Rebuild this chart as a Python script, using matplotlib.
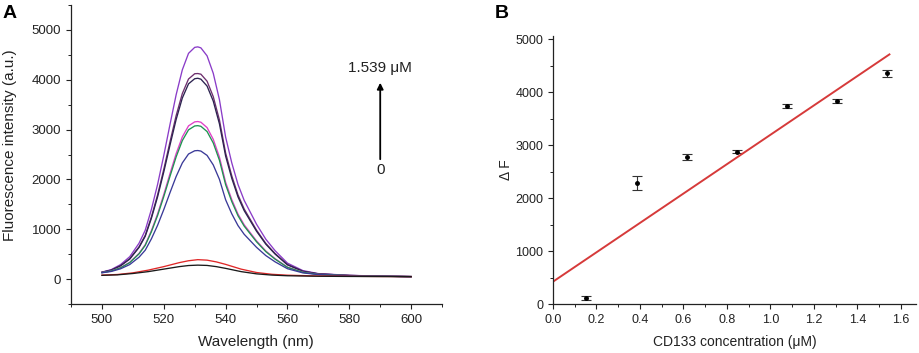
import numpy as np
import matplotlib
matplotlib.use('Agg')
import matplotlib.pyplot as plt
from matplotlib.ticker import MultipleLocator

plt.rcParams['font.family'] = ['Liberation Sans', 'DejaVu Sans']

# --- panel A: emission spectra ---
wl = [500, 503, 506, 509, 512, 514, 516, 518, 520, 522, 524, 526, 528, 530, 531,
      532, 534, 536, 538, 540, 542, 544, 546, 548, 550, 553, 556, 560, 565, 570,
      580, 590, 600]
spec_1539 = [140, 190, 290, 450, 720, 980, 1400, 1900, 2480, 3100, 3700, 4200, 4530,
             4650, 4660, 4640, 4480, 4130, 3600, 2850, 2330, 1900, 1580, 1340, 1100,
             800, 570, 320, 170, 110, 75, 60, 50]
spec_1309 = [137, 180, 269, 410, 648, 878, 1249, 1691, 2204, 2752, 3282, 3724, 4015,
             4121, 4125, 4112, 3971, 3661, 3193, 2530, 2070, 1690, 1407, 1194, 982,
             716, 513, 292, 158, 105, 73, 59, 50]
spec_1078 = [136, 179, 265, 402, 635, 859, 1221, 1651, 2151, 2686, 3203, 3634, 3918,
             4021, 4030, 4012, 3874, 3572, 3115, 2469, 2020, 1650, 1374, 1167, 960,
             701, 502, 286, 156, 104, 73, 59, 50]
spec_0847 = [130, 163, 230, 337, 517, 692, 974, 1309, 1699, 2115, 2518, 2854, 3075,
             3155, 3162, 3148, 3040, 2805, 2448, 1944, 1594, 1305, 1090, 928, 766,
             564, 409, 240, 137, 95, 69, 58, 50]
spec_0616 = [130, 162, 226, 330, 506, 676, 950, 1277, 1656, 2061, 2453, 2780, 2995,
             3073, 3079, 3066, 2961, 2732, 2385, 1894, 1554, 1272, 1063, 905, 748,
             551, 400, 235, 135, 94, 69, 58, 50]
spec_0385 = [126, 153, 206, 292, 439, 580, 808, 1080, 1395, 1733, 2059, 2331, 2510,
             2575, 2580, 2569, 2482, 2291, 2001, 1592, 1309, 1074, 899, 768, 637,
             472, 346, 208, 124, 90, 67, 57, 50]

wl_low = [500, 505, 510, 515, 520, 525, 528, 531, 534, 537, 540, 545, 550, 555, 560,
          570, 580, 590, 600]
spec_0154 = [80, 92, 125, 180, 250, 330, 368, 390, 380, 345, 295, 200, 132, 96, 78,
             62, 56, 52, 50]
spec_0000 = [75, 85, 112, 150, 200, 250, 272, 280, 274, 250, 215, 150, 105, 80, 67,
             57, 53, 51, 49]

# --- panel B: calibration ---
conc = [0.154, 0.385, 0.616, 0.847, 1.078, 1.309, 1.539]
delta_f = [108, 2280, 2777, 2877, 3740, 3835, 4358]
delta_err = [35, 130, 50, 25, 45, 35, 65]
fit_x = [0.0, 1.548]
fit_y = [421, 4717]

txt = '#222222'
fig = plt.figure(figsize=(9.2, 3.53), dpi=100)
axA = fig.add_axes([0.0772, 0.1388, 0.4033, 0.847])
axB = fig.add_axes([0.601, 0.1388, 0.3946, 0.760])

big = [(spec_1539, '#8a3cc8'), (spec_1309, '#6e2f6e'), (spec_1078, '#2c2350'),
       (spec_0847, '#e040c8'), (spec_0616, '#1e9450'), (spec_0385, '#3a3a98')]
for ys, c in big:
    axA.plot(wl, ys, color=c, lw=0.95)
axA.plot(wl_low, spec_0154, color='#e02828', lw=0.95)
axA.plot(wl_low, spec_0000, color='#1a1a1a', lw=0.95)

axA.annotate('', xy=(590, 3996), xytext=(590, 2350),
             arrowprops=dict(arrowstyle='-|>', color='black', lw=1.3, mutation_scale=9))
axA.text(590, 4237, '1.539 μM', ha='center', va='center', fontsize=11, color=txt)
axA.text(590, 2189, '0', ha='center', va='center', fontsize=11, color=txt)

axA.set_xlim(490, 610)
axA.set_ylim(-500, 5500)
axA.xaxis.set_major_locator(MultipleLocator(20))
axA.xaxis.set_minor_locator(MultipleLocator(10))
axA.yaxis.set_major_locator(MultipleLocator(1000))
axA.yaxis.set_minor_locator(MultipleLocator(500))
axA.set_xlabel('Wavelength (nm)', fontsize=11, color=txt)
axA.set_ylabel('Fluorescence intensity (a.u.)', fontsize=11, color=txt)
axA.xaxis.set_label_coords(0.499, -0.104)
axA.yaxis.set_label_coords(-0.146, 0.53)

axB.errorbar(conc, delta_f, yerr=delta_err, fmt='o', color='black', ms=2.5,
             ecolor='#333333', elinewidth=0.8, capsize=3.5, capthick=0.8)
axB.plot(fit_x, fit_y, color='#d63a3a', lw=1.4)
axB.set_xlim(0, 1.67)
axB.set_ylim(0, 5070)
axB.xaxis.set_major_locator(MultipleLocator(0.2))
axB.xaxis.set_minor_locator(MultipleLocator(0.1))
axB.yaxis.set_major_locator(MultipleLocator(1000))
axB.yaxis.set_minor_locator(MultipleLocator(500))
axB.xaxis.set_major_formatter(plt.FuncFormatter(lambda v, p: f'{v:.1f}'))
axB.set_xlabel('CD133 concentration (μM)', fontsize=10, color=txt)
axB.set_ylabel('Δ F', fontsize=10, color=txt)
axB.xaxis.set_label_coords(0.50, -0.116)
axB.yaxis.set_label_coords(-0.111, 0.5)

for ax, fs in ((axA, 9.5), (axB, 9)):
    for s in ('top', 'right'):
        ax.spines[s].set_visible(False)
    for s in ('left', 'bottom'):
        ax.spines[s].set_color('#222222')
        ax.spines[s].set_linewidth(0.9)
    ax.tick_params(which='major', direction='out', length=3.5, width=0.8,
                   labelsize=fs, colors='#222222', labelcolor=txt)
    ax.tick_params(which='minor', direction='out', length=2, width=0.7, colors='#222222')

fig.text(0.003, 0.985, 'A', fontsize=14, fontweight='bold', va='top', ha='left')
fig.text(0.538, 0.985, 'B', fontsize=14, fontweight='bold', va='top', ha='left')

fig.savefig('out.png', dpi=100)
